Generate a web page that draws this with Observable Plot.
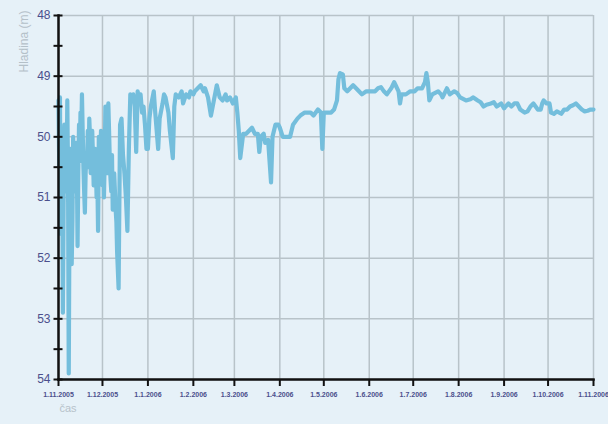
<!DOCTYPE html>
<html>
<head>
<meta charset="utf-8">
<script src="https://cdn.jsdelivr.net/npm/d3@7"></script>
<script src="https://cdn.jsdelivr.net/npm/@observablehq/plot@0.6"></script>
<style>
  html, body { margin: 0; padding: 0; background: #e6f1f8; }
  #chart svg { display: block; }
  g[aria-label="x-axis tick label"] text { font-size: 7px; font-weight: bold; }
  g[aria-label="y-axis tick label"] text { font-size: 12px; }
</style>
</head>
<body>
<div id="chart"></div>
<script>
// water level (m) readings, daily / every few days
const dates = [
  "2005-11-01","2005-11-02","2005-11-03","2005-11-04","2005-11-05","2005-11-06","2005-11-07","2005-11-08","2005-11-09","2005-11-10",
  "2005-11-11","2005-11-12","2005-11-13","2005-11-14","2005-11-15","2005-11-16","2005-11-17","2005-11-18","2005-11-19","2005-11-20",
  "2005-11-21","2005-11-22","2005-11-23","2005-11-24","2005-11-25","2005-11-26","2005-11-27","2005-11-28","2005-11-29","2005-11-30",
  "2005-12-01","2005-12-02","2005-12-03","2005-12-04","2005-12-05","2005-12-06","2005-12-07","2005-12-08","2005-12-09","2005-12-10",
  "2005-12-11","2005-12-12","2005-12-13","2005-12-14","2005-12-15","2005-12-16","2005-12-17","2005-12-18","2005-12-19","2005-12-20",
  "2005-12-21","2005-12-22","2005-12-23","2005-12-24","2005-12-25","2005-12-26","2005-12-27","2005-12-28","2005-12-29","2005-12-30",
  "2005-12-31",
  "2006-01-01","2006-01-02","2006-01-03","2006-01-05","2006-01-06","2006-01-08","2006-01-09","2006-01-11","2006-01-12","2006-01-13","2006-01-15","2006-01-16",
  "2006-01-18","2006-01-19","2006-01-20","2006-01-22","2006-01-24","2006-01-25","2006-01-27","2006-01-29","2006-01-30",
  "2006-02-01","2006-02-02","2006-02-04","2006-02-06","2006-02-08","2006-02-09","2006-02-11","2006-02-13","2006-02-15","2006-02-17","2006-02-19","2006-02-21","2006-02-23","2006-02-24",
  "2006-02-26","2006-02-28",
  "2006-03-02","2006-03-03","2006-03-04","2006-03-05","2006-03-07","2006-03-09","2006-03-11","2006-03-13","2006-03-15","2006-03-17",
  "2006-03-18","2006-03-19","2006-03-21","2006-03-22","2006-03-24","2006-03-26","2006-03-27","2006-03-29","2006-03-31",
  "2006-04-01","2006-04-03","2006-04-06","2006-04-08","2006-04-10","2006-04-13","2006-04-15","2006-04-18","2006-04-20","2006-04-22",
  "2006-04-24","2006-04-27","2006-04-29","2006-04-30",
  "2006-05-01","2006-05-03","2006-05-06","2006-05-08","2006-05-10","2006-05-11","2006-05-12","2006-05-14","2006-05-15","2006-05-17",
  "2006-05-19","2006-05-21","2006-05-23","2006-05-25","2006-05-27","2006-05-30",
  "2006-06-02","2006-06-05","2006-06-07","2006-06-09","2006-06-11","2006-06-13","2006-06-16","2006-06-18","2006-06-19","2006-06-21",
  "2006-06-22","2006-06-23","2006-06-26","2006-06-29",
  "2006-07-02","2006-07-04","2006-07-07","2006-07-09","2006-07-10","2006-07-11","2006-07-12","2006-07-14","2006-07-18","2006-07-20",
  "2006-07-21","2006-07-23","2006-07-24","2006-07-26","2006-07-29","2006-07-31",
  "2006-08-02","2006-08-06","2006-08-09","2006-08-11","2006-08-14","2006-08-16","2006-08-18","2006-08-20","2006-08-23","2006-08-25",
  "2006-08-27","2006-08-30",
  "2006-09-01","2006-09-02","2006-09-04","2006-09-06","2006-09-08","2006-09-10","2006-09-12","2006-09-15","2006-09-17","2006-09-19",
  "2006-09-21","2006-09-24","2006-09-26","2006-09-27","2006-09-28","2006-09-30",
  "2006-10-02","2006-10-03","2006-10-05","2006-10-07","2006-10-10","2006-10-12","2006-10-14","2006-10-16","2006-10-18","2006-10-20",
  "2006-10-22","2006-10-24","2006-10-26","2006-10-28","2006-10-30","2006-11-01"
];
const levels = [
  49.4,49.35,50.8,52.9,49.8,50.4,49.4,53.9,50.2,52.1,
  50.0,50.7,50.1,51.8,49.8,49.6,49.3,50.5,51.25,50.3,
  49.9,49.7,50.6,49.9,50.8,50.2,51.0,51.55,50.5,49.9,
  50.8,51.0,49.5,50.1,49.45,50.4,50.9,51.2,50.6,51.2,
  51.9,52.5,49.8,49.7,50.3,50.6,51.0,51.55,50.2,49.3,
  49.4,49.3,49.5,50.25,49.25,49.4,49.3,49.6,49.5,49.8,
  50.2,
  50.2,49.7,49.5,49.25,49.6,50.2,49.7,49.45,49.3,49.35,49.6,49.9,
  50.35,49.5,49.3,49.35,49.25,49.45,49.3,49.35,49.25,
  49.3,49.25,49.2,49.15,49.25,49.2,49.35,49.65,49.4,49.15,49.35,49.4,49.3,49.4,
  49.35,49.45,
  49.35,49.6,49.9,50.35,49.95,49.95,49.9,49.85,49.95,49.95,
  50.25,50.0,49.95,50.1,50.05,50.75,50.0,49.8,49.8,
  49.85,50.0,50.0,50.0,49.8,49.7,49.65,49.6,49.6,49.6,
  49.65,49.55,49.6,50.2,
  49.6,49.6,49.6,49.55,49.4,49.05,48.95,48.97,49.2,49.25,
  49.2,49.15,49.2,49.25,49.3,49.25,
  49.25,49.25,49.2,49.18,49.25,49.3,49.2,49.1,49.15,49.25,
  49.45,49.3,49.3,49.25,
  49.25,49.2,49.2,49.1,48.95,49.1,49.4,49.3,49.25,49.3,
  49.35,49.25,49.2,49.3,49.25,49.28,
  49.35,49.4,49.38,49.35,49.4,49.43,49.5,49.47,49.45,49.43,
  49.5,49.45,
  49.53,49.5,49.45,49.5,49.45,49.45,49.55,49.6,49.58,49.5,
  49.45,49.55,49.55,49.45,49.4,49.45,
  49.45,49.6,49.62,49.58,49.62,49.55,49.55,49.5,49.48,49.45,
  49.5,49.55,49.58,49.57,49.55,49.55
];
// extra midday readings in the turbulent first weeks
const noonDates = [
  "2005-11-01T12:00Z","2005-11-02T12:00Z","2005-11-03T12:00Z","2005-11-04T12:00Z","2005-11-05T12:00Z","2005-11-06T12:00Z",
  "2005-11-07T12:00Z","2005-11-08T12:00Z","2005-11-09T12:00Z","2005-11-10T12:00Z","2005-11-11T12:00Z","2005-11-12T12:00Z",
  "2005-11-13T12:00Z","2005-11-14T12:00Z","2005-11-15T12:00Z","2005-11-16T12:00Z","2005-11-17T12:00Z","2005-11-18T12:00Z",
  "2005-11-19T12:00Z","2005-11-20T12:00Z","2005-11-21T12:00Z","2005-11-22T12:00Z","2005-11-23T12:00Z","2005-11-24T12:00Z",
  "2005-11-25T12:00Z","2005-11-26T12:00Z","2005-11-27T12:00Z","2005-11-28T12:00Z","2005-11-29T12:00Z","2005-11-30T12:00Z",
  "2005-12-01T12:00Z","2005-12-02T12:00Z","2005-12-03T12:00Z","2005-12-04T12:00Z","2005-12-05T12:00Z","2005-12-06T12:00Z",
  "2005-12-07T12:00Z","2005-12-08T12:00Z","2005-12-09T12:00Z","2005-12-10T12:00Z"
];
const noonLevels = [
  50.5,51.6,50.2,51.0,50.9,50.8,
  50.6,51.2,50.6,51.4,50.5,50.9,
  50.4,50.6,50.4,50.0,49.9,50.9,
  50.6,50.4,50.5,50.0,50.5,50.3,
  50.6,50.5,50.7,50.0,50.4,50.3,
  50.3,50.4,50.6,50.6,49.9,50.7,
  50.3,50.9,50.9,51.4
];
const monthTicks = [
  "2005-11-01","2005-12-01","2006-01-01","2006-02-01","2006-03-01","2006-04-01","2006-05-01",
  "2006-06-01","2006-07-01","2006-08-01","2006-09-01","2006-10-01","2006-11-01"
];
const levelTicks = [48, 49, 50, 51, 52, 53, 54];
const minorTicks = [48, 48.5, 49, 49.5, 50, 50.5, 51, 51.5, 52, 52.5, 53, 53.5, 54];
const yLabel = "Hladina (m)";
const xLabel = "čas";

const data = dates.map((d, i) => ({date: new Date(d), level: levels[i]}))
  .concat(noonDates.map((d, i) => ({date: new Date(d), level: noonLevels[i]})))
  .sort((a, b) => a.date - b.date);
const months = monthTicks.map(d => new Date(d));
const fmt = d3.utcFormat("%-d.%-m.%Y");

const chart = Plot.plot({
  width: 608,
  height: 424,
  marginTop: 15,
  marginBottom: 45,
  marginLeft: 58,
  marginRight: 15,
  style: {background: "#e6f1f8", color: "#111", fontFamily: "Liberation Sans, Arial, sans-serif"},
  x: {type: "utc", domain: [months[0], months[months.length - 1]]},
  y: {domain: [48, 54], reverse: true},
  marks: [
    Plot.gridX(months, {stroke: "#b8c3c9", strokeOpacity: 1, strokeWidth: 1.5}),
    Plot.gridY(levelTicks, {stroke: "#b8c3c9", strokeOpacity: 1, strokeWidth: 1.5}),
    Plot.line(data, {x: "date", y: "level", stroke: "#74bedc", strokeWidth: 4.2, strokeLinejoin: "round", strokeLinecap: "round"}),
    Plot.axisX({ticks: months, tickSize: 7, tickPadding: 6, tickFormat: fmt, strokeWidth: 2, fill: "#4b4f8c", label: null, fontSize: 7}),
    Plot.axisY({ticks: minorTicks, tickSize: 9, dx: 4.5, tickFormat: () => "", strokeWidth: 2, label: null}),
    Plot.axisY({ticks: levelTicks, tickSize: 0, tickPadding: 8, tickFormat: d => String(d), fill: "#4b4f8c", label: null, fontSize: 12}),
    Plot.frame({anchor: "left", stroke: "#111", strokeWidth: 2.5}),
    Plot.frame({anchor: "bottom", stroke: "#111", strokeWidth: 2.5}),
    Plot.text([yLabel], {frameAnchor: "top-left", rotate: -90, textAnchor: "end", dx: -39, dy: -5, fill: "#b4c0c8", fontSize: 12}),
    Plot.text([xLabel], {frameAnchor: "bottom-left", textAnchor: "start", dx: 1, dy: 32, fill: "#b6c2ca", fontSize: 11})
  ]
});
document.getElementById("chart").append(chart);
</script>
</body>
</html>
